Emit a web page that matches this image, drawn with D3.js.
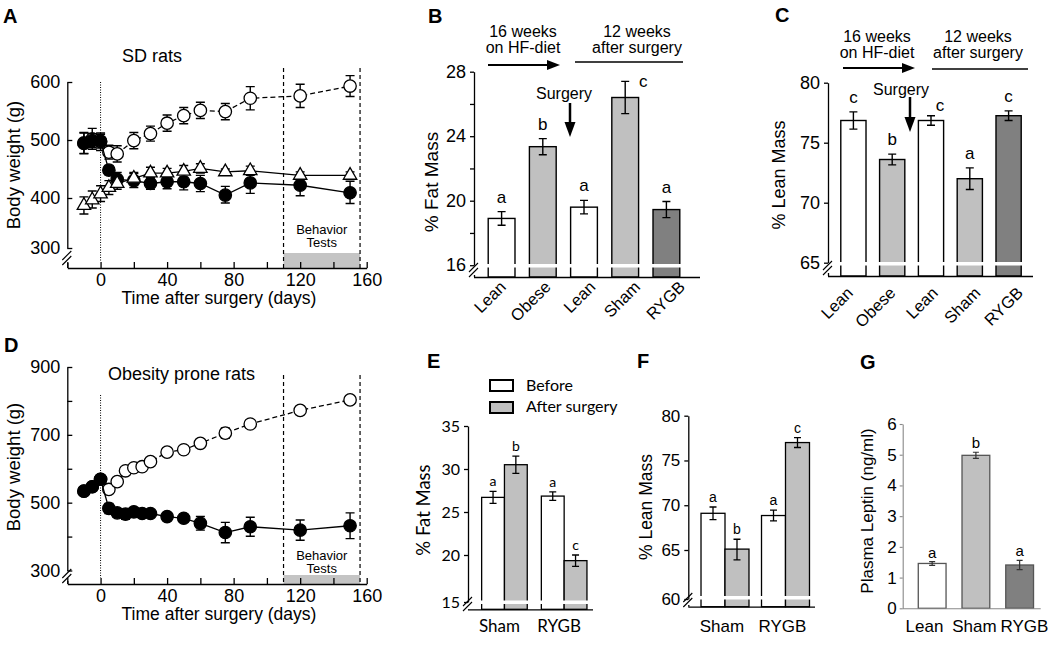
<!DOCTYPE html>
<html>
<head>
<meta charset="utf-8">
<script src="https://cdn.jsdelivr.net/npm/d3@7"></script>
<style>
  body { margin: 0; background: #fff; }
  svg { display: block; }
</style>
</head>
<body>
<svg id="fig" width="1050" height="648"></svg>
<script>
// ---------- data ----------
const daysA = [-10, -5, 0, 5, 10, 20, 30, 40, 50, 60, 75, 90, 120, 150];
const shamA = [495, 502, 497, 479, 476, 499, 511, 529, 542, 551, 549, 572, 576, 593];
const shamAErr = [18, 18, 15, 12, 14, 14, 13, 14, 14, 14, 14, 20, 20, 18];
const rygbA = [494, 499, 498, 448, 432, 430, 425, 428, 428, 425, 405, 426, 422, 409];
const rygbAErr = [18, 12, 12, 8, 12, 12, 10, 12, 14, 14, 15, 18, 18, 20];
const leanA = [385, 396, 407, 418, 425, 434, 443, 443, 446, 451, 445, 447, 439, 439];
const leanAErr = [17, 16, 14, 12, 10, 10, 10, 8, 10, 8, 5, 8, 6, 6];

const daysD = [-10, -5, 0, 5, 10, 15, 20, 25, 30, 40, 50, 60, 75, 90, 120, 150];
const shamD = [534, 547, 569, 539, 562, 594, 603, 606, 621, 649, 656, 675, 705, 732, 772, 803];
const shamDErr = [8, 8, 10, 10, 8, 8, 6, 6, 8, 10, 12, 12, 15, 12, 12, 10];
const rygbD = [534, 547, 569, 483, 470, 466, 473, 468, 468, 459, 454, 439, 412, 429, 419, 432];
const rygbDErr = [10, 10, 12, 15, 12, 15, 10, 10, 10, 10, 12, 20, 30, 28, 30, 38];

const testWindow = [110, 156];   // behaviour tests (days)

const massCats = ["Lean", "Obese", "Lean", "Sham", "RYGB"];
const fatVals = [18.9, 23.35, 19.6, 26.4, 19.45];
const fatErr = [0.42, 0.5, 0.42, 1.0, 0.5];
const fatLetters = ["a", "b", "a", "c", "a"];
const leanVals = [76.85, 73.6, 76.85, 72.0, 77.25];
const leanErr = [0.72, 0.45, 0.4, 0.9, 0.4];
const leanLetters = ["c", "b", "c", "a", "c"];

const surgGroups = ["Sham", "RYGB"];
const phases = ["Before", "After surgery"];
const fatBefore = [26.7, 26.85], fatBeforeErr = [0.7, 0.5];
const fatAfter = [30.5, 19.4], fatAfterErr = [1.0, 0.6];
const fatLetBefore = ["a", "a"], fatLetAfter = ["b", "c"];
const lmBefore = [69.1, 68.85], lmBeforeErr = [0.7, 0.6];
const lmAfter = [65.1, 77.0], lmAfterErr = [1.1, 0.55];
const lmLetBefore = ["a", "a"], lmLetAfter = ["b", "c"];

const leptinCats = ["Lean", "Sham", "RYGB"];
const leptinVals = [1.46, 4.98, 1.41];
const leptinErr = [0.06, 0.1, 0.15];
const leptinLetters = ["a", "b", "a"];

// ---------- helpers ----------
const svg = d3.select("#fig");
const ARIAL = '"Liberation Sans", Arial, sans-serif';
const CALI = 'Lato, "Open Sans", sans-serif';
const fillFor = { Lean: "#ffffff", Obese: "#c0c0c0", Sham: "#c0c0c0", RYGB: "#808080" };

function txt(g, x, y, s, size, opt = {}) {
  return g.append("text").attr("x", x).attr("y", y).text(s)
    .attr("font-size", size).attr("font-family", opt.font || ARIAL)
    .attr("font-weight", opt.bold ? "bold" : null)
    .attr("text-anchor", opt.anchor || "start").attr("fill", "#000");
}
function vtitle(g, x, y, s, size, font) {
  g.append("text").attr("transform", `translate(${x},${y}) rotate(-90)`)
    .attr("text-anchor", "middle").attr("font-size", size).attr("font-family", font || ARIAL).text(s);
}
function yAxis(g, y, ax, o) {
  const a = d3.axisLeft(y).tickValues(o.ticks).tickSizeInner(o.tick).tickSizeOuter(0).tickPadding(o.pad)
    .tickFormat(d => o.labels.includes(d) ? d : "");
  const sel = g.append("g").attr("transform", `translate(${ax},0)`).call(a)
    .attr("font-size", o.size).attr("font-family", o.font || ARIAL);
  sel.selectAll("text").attr("fill", "#000");
  sel.selectAll("line,path").attr("stroke", o.stroke || "#000").attr("stroke-width", o.sw || 1.3);
  return sel;
}
function axisBreak(g, ax, by, axisY, stroke) {
  g.append("path").attr("d", `M${ax + 0.5},${by + 5}V${axisY}`)
    .attr("stroke", stroke || "#000").attr("stroke-width", 1.3);
  g.append("path").attr("d", [-2.5, 2.5].map(o => `M${ax - 5},${by + o + 4.5}L${ax + 4},${by + o - 4.5}`).join(""))
    .attr("stroke", stroke || "#000").attr("stroke-width", 1.1).attr("fill", "none");
}
function errBars(g, pts, cap, stroke, sw) {
  g.append("g").selectAll("path").data(pts).join("path")
    .attr("d", p => `M${p.x - cap},${p.t}H${p.x + cap}M${p.x},${p.t}V${p.b}M${p.x - cap},${p.b}H${p.x + cap}`)
    .attr("fill", "none").attr("stroke", stroke).attr("stroke-width", sw);
}

// ---------- body-weight time courses (A, D) ----------
function series(g, x, y, days, vals, errs, kind) {
  const pts = days.map((d, i) => ({ d, v: vals[i], e: errs[i] }));
  g.append("path").datum(pts)
    .attr("d", d3.line().x(p => x(p.d)).y(p => y(p.v)))
    .attr("fill", "none").attr("stroke", "#000").attr("stroke-width", 1.3)
    .attr("stroke-dasharray", kind === "open" ? "5,3" : null);
  errBars(g, pts.map(p => ({ x: x(p.d), t: y(p.v + p.e), b: y(p.v - p.e) })), 4.5, "#000", 1.4);
  if (kind === "tri") {
    g.append("g").selectAll("path").data(pts).join("path")
      .attr("transform", p => `translate(${x(p.d)},${y(p.v)})`)
      .attr("d", d3.symbol(d3.symbolTriangle, 78))
      .attr("fill", "#fff").attr("stroke", "#000").attr("stroke-width", 1.3);
  } else {
    g.append("g").selectAll("circle").data(pts).join("circle")
      .attr("cx", p => x(p.d)).attr("cy", p => y(p.v)).attr("r", 6.2)
      .attr("fill", kind === "open" ? "#fff" : "#000").attr("stroke", "#000").attr("stroke-width", 1.3);
  }
}

function linePanel(o) {
  const g = svg.append("g");
  const x = d3.scaleLinear().domain([-20, 160]).range([67.3, 366.7]);
  const y = o.y;

  g.append("rect").attr("x", x(testWindow[0])).attr("y", o.bandTop)
    .attr("width", x(testWindow[1]) - x(testWindow[0])).attr("height", o.axisY - o.bandTop)
    .attr("fill", "#c4c4c4");
  g.append("line").attr("x1", x(0)).attr("x2", x(0)).attr("y1", o.dotTop).attr("y2", o.axisY - 6)
    .attr("stroke", "#000").attr("stroke-width", 1).attr("stroke-dasharray", "1,1.5");
  g.append("g").selectAll("line").data(testWindow).join("line")
    .attr("x1", d => x(d)).attr("x2", d => x(d)).attr("y1", o.dashTop).attr("y2", o.axisY)
    .attr("stroke", "#000").attr("stroke-width", 1.2).attr("stroke-dasharray", "4,3");

  const xa = g.append("g").attr("transform", `translate(0,${o.axisY})`)
    .call(d3.axisBottom(x).tickValues(d3.range(-20, 161, 20)).tickSizeInner(-6).tickSizeOuter(0).tickPadding(5)
      .tickFormat(d => d >= 0 && d % 40 === 0 ? d : ""))
    .attr("font-size", 18).attr("font-family", ARIAL);
  xa.selectAll("text").attr("fill", "#000");
  xa.selectAll("line,path").attr("stroke", "#000").attr("stroke-width", 1.3);

  yAxis(g, y, x(-20), { ticks: o.yTicks, labels: o.yLabels, tick: -5, pad: 7, size: 18 });
  axisBreak(g, x(-20), o.breakY, o.axisY);

  o.series.forEach(s => series(g, x, y, s.days, s.vals, s.errs, s.kind));

  txt(g, x(133), o.testY, "Behavior", 13, { anchor: "middle" });
  txt(g, x(133), o.testY + 13, "Tests", 13, { anchor: "middle" });
  txt(g, o.letterX, o.letterY, o.letter, 20, { bold: true });
  txt(g, o.titleX, o.titleY, o.title, 18, { anchor: o.titleAnchor });
  txt(g, 219, o.axisY + 36, "Time after surgery (days)", 17.5, { anchor: "middle" });
  vtitle(g, 20, o.yTitleY, "Body weight (g)", 18.5);
}

linePanel({
  letter: "A", letterX: 3, letterY: 23,
  title: "SD rats", titleX: 152, titleY: 62, titleAnchor: "middle",
  y: d3.scaleLinear().domain([300, 400, 600]).range([248, 198, 82]),
  yTicks: [300, 400, 500, 600], yLabels: [300, 400, 500, 600],
  axisY: 268, breakY: 258, bandTop: 253, dotTop: 82, dashTop: 68, testY: 234, yTitleY: 165,
  series: [
    { days: daysA, vals: shamA, errs: shamAErr, kind: "open" },
    { days: daysA, vals: rygbA, errs: rygbAErr, kind: "filled" },
    { days: daysA, vals: leanA, errs: leanAErr, kind: "tri" }
  ]
});

linePanel({
  letter: "D", letterX: 4, letterY: 352,
  title: "Obesity prone rats", titleX: 108, titleY: 380, titleAnchor: "start",
  y: d3.scaleLinear().domain([300, 900]).range([570.5, 367]),
  yTicks: d3.range(300, 901, 100), yLabels: [300, 500, 700, 900],
  axisY: 584, breakY: 576, bandTop: 575, dotTop: 395, dashTop: 375, testY: 560, yTitleY: 467,
  series: [
    { days: daysD, vals: shamD, errs: shamDErr, kind: "open" },
    { days: daysD, vals: rygbD, errs: rygbDErr, kind: "filled" }
  ]
});

// ---------- body composition before/after surgery (B, C) ----------
function arrowRight(g, x0, x1, y) {
  g.append("line").attr("x1", x0).attr("x2", x1 - 10).attr("y1", y).attr("y2", y)
    .attr("stroke", "#000").attr("stroke-width", 2);
  g.append("path").attr("d", `M${x1},${y}L${x1 - 13},${y - 5}L${x1 - 13},${y + 5}Z`).attr("fill", "#000");
}
function arrowDown(g, x, y0, y1) {
  g.append("line").attr("x1", x).attr("x2", x).attr("y1", y0).attr("y2", y1 - 12)
    .attr("stroke", "#000").attr("stroke-width", 2.5);
  g.append("path").attr("d", `M${x},${y1}L${x - 5.5},${y1 - 15}L${x + 5.5},${y1 - 15}Z`).attr("fill", "#000");
}

function massPanel(o) {
  const g = svg.append("g");
  const idx = d3.range(o.vals.length);
  const x = d3.scaleBand().domain(idx).range(o.xRange).paddingInner(0.35).paddingOuter(0.175);
  const lx = d3.scalePoint().domain(idx).range(o.labelRange);
  const y = d3.scaleLinear().domain(o.yDomain).range(o.yRange);

  g.append("g").selectAll("rect").data(idx).join("rect")
    .attr("x", i => x(i)).attr("width", x.bandwidth())
    .attr("y", i => y(o.vals[i])).attr("height", i => o.axisY - y(o.vals[i]))
    .attr("fill", i => fillFor[massCats[i]]).attr("stroke", "#000").attr("stroke-width", 1.4);
  g.append("rect").attr("x", o.axisX + 1).attr("width", o.axisEnd - o.axisX - 1)
    .attr("y", o.stripeY).attr("height", 3.5).attr("fill", "#fff");

  errBars(g, idx.map(i => ({ x: x(i) + x.bandwidth() / 2, t: y(o.vals[i] + o.errs[i]), b: y(o.vals[i] - o.errs[i]) })),
    4, "#000", 1.4);
  g.append("g").selectAll("text").data(idx).join("text")
    .attr("x", i => x(i) + x.bandwidth() / 2 + (o.letterShift[i] || [0, 0])[0])
    .attr("y", i => y(o.vals[i] + o.errs[i]) - 9 + (o.letterShift[i] || [0, 0])[1])
    .attr("text-anchor", "middle").attr("font-size", 17).attr("font-family", ARIAL)
    .text(i => o.letters[i]);

  yAxis(g, y, o.axisX, { ticks: o.yTicks, labels: o.yLabels, tick: 4, pad: 4, size: 18 });
  axisBreak(g, o.axisX, o.breakY, o.axisY);
  g.append("line").attr("x1", o.axisX).attr("x2", o.axisEnd).attr("y1", o.axisY + 0.5).attr("y2", o.axisY + 0.5)
    .attr("stroke", "#000").attr("stroke-width", 1.3);
  g.append("g").selectAll("text").data(idx).join("text")
    .attr("transform", i => `translate(${lx(i)},${o.labelY}) rotate(-45)`)
    .attr("text-anchor", "end").attr("font-size", 16.5).attr("font-family", ARIAL)
    .text(i => massCats[i]);

  // timeline header
  const h = o.head;
  txt(g, h.lx, h.y1, "16 weeks", 16, { anchor: "middle" });
  txt(g, h.lx, h.y1 + 16, "on HF-diet", 16, { anchor: "middle" });
  txt(g, h.rx, h.y1, "12 weeks", 16, { anchor: "middle" });
  txt(g, h.rx, h.y1 + 16, "after surgery", 16, { anchor: "middle" });
  arrowRight(g, h.a0, h.a1, h.ay);
  g.append("line").attr("x1", h.l0).attr("x2", h.l1).attr("y1", h.ly).attr("y2", h.ly)
    .attr("stroke", "#000").attr("stroke-width", 1.4);
  txt(g, h.sx, h.sy, "Surgery", 16, { anchor: "middle" });
  arrowDown(g, h.dx, h.d0, h.d1);

  txt(g, o.letterX, o.letterY, o.letter, 20, { bold: true });
  vtitle(g, o.titleX, o.titleY, o.title, o.titleSize);
}

massPanel({
  letter: "B", letterX: 428, letterY: 23,
  vals: fatVals, errs: fatErr, letters: fatLetters, letterShift: { 3: [18, 15] },
  xRange: [481, 687], labelRange: [507, 686], labelY: 288,
  yDomain: [16, 28], yRange: [265.2, 71.7], yTicks: d3.range(16, 29, 2), yLabels: [16, 20, 24, 28],
  axisX: 474, axisY: 277, axisEnd: 700, stripeY: 264, breakY: 270,
  title: "% Fat Mass", titleX: 438, titleY: 182, titleSize: 19,
  head: { lx: 523, rx: 637, y1: 37, a0: 488, a1: 560, ay: 65, l0: 575, l1: 683, ly: 62,
          sx: 564, sy: 99, dx: 570, d0: 103, d1: 137 }
});

massPanel({
  letter: "C", letterX: 775, letterY: 22,
  vals: leanVals, errs: leanErr, letters: leanLetters, letterShift: { 2: [9, 4] },
  xRange: [834, 1028], labelRange: [854, 1024], labelY: 294,
  yDomain: [65, 80], yRange: [262.7, 82.7], yTicks: [65, 70, 75, 80], yLabels: [65, 70, 75, 80],
  axisX: 828, axisY: 276, axisEnd: 1033, stripeY: 262, breakY: 268,
  title: "% Lean Mass", titleX: 785, titleY: 175, titleSize: 18,
  head: { lx: 877, rx: 978, y1: 42, a0: 843, a1: 915, ay: 68, l0: 932, l1: 1028, ly: 69,
          sx: 901, sy: 95, dx: 910, d0: 97, d1: 132 }
});

// ---------- before / after surgery (E, F) ----------
function groupPanel(o) {
  const g = svg.append("g");
  const x = d3.scaleBand().domain(surgGroups).range(o.xRange).paddingInner(o.pad).paddingOuter(o.pad / 2);
  const sub = d3.scaleBand().domain(phases).range([0, x.bandwidth()]);
  const y = d3.scaleLinear().domain(o.yDomain).range(o.yRange);
  const rows = surgGroups.flatMap((s, i) => [
    { s, p: phases[0], v: o.before[i], e: o.beforeErr[i], l: o.letBefore[i] },
    { s, p: phases[1], v: o.after[i], e: o.afterErr[i], l: o.letAfter[i] }
  ]);
  const cx = r => x(r.s) + sub(r.p) + sub.bandwidth() / 2;

  g.append("g").selectAll("rect").data(rows).join("rect")
    .attr("x", r => x(r.s) + sub(r.p)).attr("width", sub.bandwidth())
    .attr("y", r => y(r.v)).attr("height", r => o.axisY - y(r.v))
    .attr("fill", r => r.p === phases[0] ? "#fff" : "#c0c0c0")
    .attr("stroke", "#000").attr("stroke-width", 1.3);
  g.append("rect").attr("x", o.axisX + 1).attr("width", o.axisEnd - o.axisX - 1)
    .attr("y", o.stripeY).attr("height", 3.5).attr("fill", "#fff");
  errBars(g, rows.map(r => ({ x: cx(r), t: y(r.v + r.e), b: y(r.v - r.e) })), 3.5, "#000", 1.3);
  g.append("g").selectAll("text").data(rows).join("text")
    .attr("x", cx).attr("y", r => y(r.v + r.e) - 5)
    .attr("text-anchor", "middle").attr("font-size", 14).attr("font-family", o.font).text(r => r.l);

  yAxis(g, y, o.axisX, { ticks: o.yTicks, labels: o.yTicks, tick: 4, pad: 4, size: o.tickSize, font: o.font });
  axisBreak(g, o.axisX, o.breakY, o.axisY);
  g.append("line").attr("x1", o.axisX).attr("x2", o.axisEnd).attr("y1", o.axisY + 0.5).attr("y2", o.axisY + 0.5)
    .attr("stroke", "#000").attr("stroke-width", 1.3);
  g.append("g").selectAll("text").data(surgGroups).join("text")
    .attr("x", s => x(s) + x.bandwidth() / 2 + o.labelDx).attr("y", 632)
    .attr("text-anchor", "middle").attr("font-size", 17).attr("font-family", o.font).text(s => s);

  txt(g, o.letterX, 368, o.letter, 20, { bold: true });
  vtitle(g, o.titleX, o.titleY, o.title, o.titleSize, o.font);
  return g;
}

const gE = groupPanel({
  letter: "E", letterX: 427, font: CALI, tickSize: 16,
  before: fatBefore, beforeErr: fatBeforeErr, after: fatAfter, afterErr: fatAfterErr,
  letBefore: fatLetBefore, letAfter: fatLetAfter,
  xRange: [474.6, 594], pad: 0.236, labelDx: -5,
  yDomain: [15, 20, 35], yRange: [602, 555, 426], yTicks: [15, 20, 25, 30, 35],
  axisX: 468, axisY: 609.3, axisEnd: 593, stripeY: 600.5, breakY: 604,
  title: "% Fat Mass", titleX: 430, titleY: 510, titleSize: 18.5
});
// legend
phases.forEach((p, i) => {
  gE.append("rect").attr("x", 490).attr("y", 380 + i * 22).attr("width", 23).attr("height", 11)
    .attr("fill", i ? "#c0c0c0" : "#fff").attr("stroke", "#000").attr("stroke-width", 2);
  txt(gE, 526, 391 + i * 21, p, 16, { font: CALI });
});

groupPanel({
  letter: "F", letterX: 637, font: ARIAL, tickSize: 17,
  before: lmBefore, beforeErr: lmBeforeErr, after: lmAfter, afterErr: lmAfterErr,
  letBefore: lmLetBefore, letAfter: lmLetAfter,
  xRange: [694.75, 815.75], pad: 0.207, labelDx: -3,
  yDomain: [60, 65, 80], yRange: [599, 550, 415.7], yTicks: [60, 65, 70, 75, 80],
  axisX: 688.3, axisY: 606.7, axisEnd: 815, stripeY: 596, breakY: 600,
  title: "% Lean Mass", titleX: 652, titleY: 507, titleSize: 17.5
});

// ---------- plasma leptin (G) ----------
{
  const g = svg.append("g");
  const x = d3.scaleBand().domain(leptinCats).range([910.4, 1041.4]).paddingInner(0.365).paddingOuter(0.18);
  const lx = d3.scalePoint().domain(leptinCats).range([924.5, 1024.5]);
  const y = d3.scaleLinear().domain([0, 6]).range([608.3, 424]);
  g.append("g").selectAll("rect").data(leptinCats).join("rect")
    .attr("x", c => x(c)).attr("width", x.bandwidth())
    .attr("y", (c, i) => y(leptinVals[i])).attr("height", (c, i) => y(0) - y(leptinVals[i]))
    .attr("fill", c => fillFor[c]).attr("stroke", "#555").attr("stroke-width", 1.3);
  errBars(g, leptinCats.map((c, i) => ({ x: x(c) + x.bandwidth() / 2, t: y(leptinVals[i] + leptinErr[i]), b: y(leptinVals[i] - leptinErr[i]) })),
    3, "#333", 1.2);
  g.append("g").selectAll("text").data(leptinCats).join("text")
    .attr("x", c => x(c) + x.bandwidth() / 2).attr("y", (c, i) => y(leptinVals[i] + leptinErr[i]) - 4)
    .attr("text-anchor", "middle").attr("font-size", 15).attr("font-family", ARIAL)
    .text((c, i) => leptinLetters[i]);
  yAxis(g, y, 902.7, { ticks: d3.range(0, 7), labels: d3.range(0, 7), tick: 3, pad: 3, size: 17,
    stroke: "#888", sw: 1.1 });
  g.append("line").attr("x1", 902.7).attr("x2", 1040.7).attr("y1", 608.8).attr("y2", 608.8)
    .attr("stroke", "#888").attr("stroke-width", 1.1);
  g.append("g").selectAll("text").data(leptinCats).join("text")
    .attr("x", c => lx(c)).attr("y", 632)
    .attr("text-anchor", "middle").attr("font-size", 17).attr("font-family", ARIAL).text(c => c);
  txt(g, 860, 369, "G", 20, { bold: true });
  vtitle(g, 873, 511, "Plasma Leptin (ng/ml)", 17);
}
</script>
</body>
</html>
